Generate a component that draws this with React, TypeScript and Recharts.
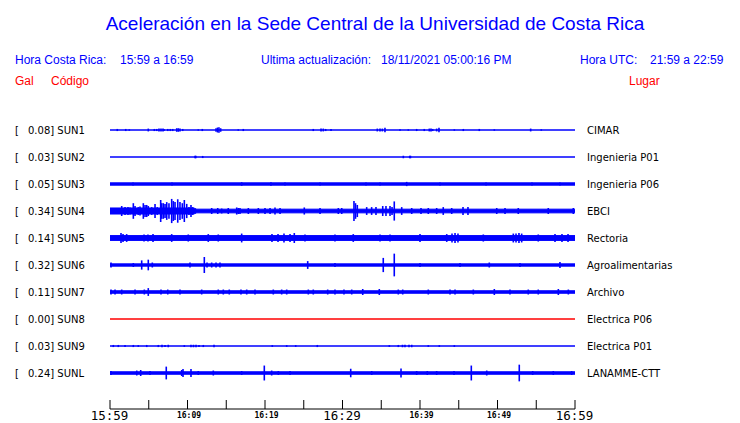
import React from "react";
import { Area, ComposedChart, ErrorBar, Scatter, XAxis, YAxis } from "recharts";

// acceleration traces, one minute = one x unit, from 15:59 (0) to 16:59 (60)
const stations = ["SUN1", "SUN2", "SUN3", "SUN4", "SUN5", "SUN6", "SUN7", "SUN8", "SUN9", "SUNL"];
const peakGal = [0.08, 0.03, 0.05, 0.34, 0.14, 0.32, 0.11, 0.0, 0.03, 0.24];
const places = [
  "CIMAR", "Ingenieria P01", "Ingenieria P06", "EBCI", "Rectoria",
  "Agroalimentarias", "Archivo", "Electrica P06", "Electrica P01", "LANAMME-CTT",
];

const timeTicks = [0, 5, 10, 15, 20, 25, 30, 35, 40, 45, 50, 55, 60];
const timeLabels = ["15:59", "", "16:09", "", "16:19", "", "16:29", "", "16:39", "", "16:49", "", "16:59"];
const bigLabels = ["15:59", "16:29", "16:59"];

// background noise half-width (gal) over time: [minute, gal]
const sun1Band = [[0, 0], [60, 0]];
const sun2Band = [[0, 0], [60, 0]];
const sun3Band = [[0, 0.033], [60, 0.033]];
const sun4Band = [[0, 0.085], [10.8, 0.085], [11.2, 0.052], [60, 0.052]];
const sun5Band = [[0, 0.068], [60, 0.068]];
const sun6Band = [[0, 0.032], [60, 0.032]];
const sun7Band = [[0, 0.035], [60, 0.035]];
const sun8Band = [[0, 0], [60, 0]];
const sun9Band = [[0, 0], [60, 0]];
const sunlBand = [[0, 0.035], [60, 0.035]];

// peaks above the noise: [minute, gal]
const sun1Events = [
  [0.94, 0.03], [2.03, 0.03], [2.49, 0.02], [4.94, 0.04], [5.72, 0.03], [6.03, 0.03], [6.32, 0.04],
  [6.58, 0.04], [6.84, 0.04], [6.97, 0.03], [7.45, 0.03], [7.78, 0.03], [8.09, 0.03], [8.61, 0.05],
  [8.81, 0.05], [9.03, 0.04], [9.38, 0.03], [11.39, 0.02], [11.91, 0.03], [13.68, 0.05], [13.87, 0.07],
  [14.06, 0.08], [14.28, 0.05], [16.55, 0.02], [17.2, 0.03], [26.23, 0.03], [27.23, 0.04], [27.52, 0.04],
  [27.83, 0.03], [28.52, 0.03], [34.49, 0.04], [34.84, 0.04], [35.14, 0.04], [35.48, 0.06], [37.42, 0.02],
  [38.49, 0.02], [39.57, 0.03], [40.55, 0.03], [41.2, 0.04], [41.42, 0.04], [41.64, 0.03], [42.15, 0.04],
  [42.45, 0.06], [44.43, 0.02], [45.59, 0.03], [47.65, 0.03], [49.59, 0.02], [54.28, 0.04], [55.65, 0.02],
];
const sun2Events = [[10.97, 0.035], [11.07, 0.035], [11.96, 0.03], [37.85, 0.035], [38.67, 0.035], [38.77, 0.035]];
const sun3Events = [
  [2.97, 0.045], [8.0, 0.045], [16.99, 0.05], [20.77, 0.05], [22.58, 0.045], [27.1, 0.045], [33.03, 0.045],
  [34.84, 0.045], [38.28, 0.06], [42.58, 0.045], [48.52, 0.045], [54.45, 0.045], [58.06, 0.045],
];
const sun4Events = [
  [0.26, 0.085], [0.77, 0.085], [1.51, 0.14], [1.94, 0.11], [2.32, 0.11], [2.58, 0.1], [3.01, 0.22],
  [3.23, 0.14], [3.65, 0.11], [3.87, 0.13], [4.3, 0.22], [4.52, 0.17], [4.74, 0.17], [4.94, 0.14],
  [5.38, 0.11], [5.81, 0.2], [6.1, 0.11], [6.54, 0.31], [6.67, 0.22], [6.88, 0.22], [7.1, 0.2],
  [7.32, 0.25], [7.61, 0.22], [7.96, 0.34], [8.17, 0.28], [8.39, 0.25], [8.74, 0.33], [9.03, 0.25],
  [9.33, 0.22], [9.59, 0.31], [9.9, 0.2], [10.19, 0.11], [10.45, 0.17], [10.67, 0.11],
  [13.12, 0.085], [13.9, 0.085], [14.41, 0.07], [15.26, 0.085], [16.35, 0.1], [16.55, 0.085], [16.77, 0.085],
  [17.85, 0.085], [19.14, 0.085], [20.0, 0.085], [20.65, 0.085], [21.29, 0.1], [21.94, 0.085], [25.07, 0.1],
  [27.1, 0.085], [29.46, 0.085], [29.9, 0.085], [31.48, 0.28], [31.68, 0.22], [31.91, 0.17], [33.12, 0.11],
  [33.76, 0.11], [34.32, 0.11], [35.19, 0.14], [35.61, 0.14], [36.13, 0.14], [36.39, 0.11], [36.68, 0.27],
  [37.64, 0.11], [38.93, 0.085], [40.13, 0.085], [41.07, 0.085], [42.15, 0.085], [43.0, 0.11], [44.09, 0.085],
  [45.55, 0.11], [46.19, 0.11], [49.9, 0.085], [50.97, 0.085], [52.68, 0.085], [56.55, 0.085], [59.78, 0.085],
];
const sun5Events = [
  [1.42, 0.14], [1.68, 0.11], [2.15, 0.11], [4.39, 0.1], [4.9, 0.1], [5.55, 0.11], [7.96, 0.11],
  [10.1, 0.1], [12.68, 0.11], [13.97, 0.1], [16.99, 0.125], [20.9, 0.11], [21.68, 0.11], [22.45, 0.125],
  [23.23, 0.11], [23.78, 0.14], [25.16, 0.1], [29.03, 0.1], [31.39, 0.11], [34.84, 0.1], [36.13, 0.1],
  [40.0, 0.11], [43.45, 0.11], [44.13, 0.13], [44.52, 0.14], [44.9, 0.125], [48.17, 0.1], [52.04, 0.125],
  [52.39, 0.13], [52.77, 0.14], [53.12, 0.125], [55.26, 0.1], [57.42, 0.11], [58.32, 0.11], [59.1, 0.11],
];
const sun6Events = [
  [0.13, 0.07], [3.01, 0.056], [4.09, 0.13], [4.94, 0.15], [5.46, 0.07], [10.32, 0.07], [12.17, 0.225],
  [12.52, 0.07], [13.12, 0.07], [13.68, 0.07], [14.19, 0.07], [25.51, 0.11], [29.03, 0.056], [35.26, 0.2],
  [36.68, 0.32], [40.0, 0.056], [45.16, 0.056], [48.94, 0.07], [52.9, 0.056], [58.06, 0.085],
];
const sun7Events = [
  [0.13, 0.07], [0.65, 0.07], [1.51, 0.07], [3.23, 0.07], [4.43, 0.07], [4.94, 0.11], [6.58, 0.07],
  [7.45, 0.07], [9.03, 0.07], [11.83, 0.07], [13.97, 0.07], [14.62, 0.07], [15.39, 0.07], [16.9, 0.07],
  [17.64, 0.07], [18.71, 0.07], [21.07, 0.07], [22.15, 0.07], [22.8, 0.07], [25.59, 0.07], [26.23, 0.07],
  [28.09, 0.07], [29.03, 0.07], [30.19, 0.07], [31.19, 0.07], [32.61, 0.085], [34.75, 0.085], [37.2, 0.07],
  [37.77, 0.07], [41.07, 0.07], [43.87, 0.07], [44.52, 0.07], [46.88, 0.07], [49.59, 0.085], [51.61, 0.07],
  [53.97, 0.07], [55.26, 0.07], [57.85, 0.085], [59.14, 0.07],
];
const sun8Events: number[][] = [];
const sun9Events = [
  [0.43, 0.03], [1.07, 0.03], [1.94, 0.03], [3.01, 0.03], [3.65, 0.025], [4.74, 0.03], [6.23, 0.03],
  [6.71, 0.035], [7.1, 0.03], [7.52, 0.035], [9.59, 0.025], [10.45, 0.035], [10.77, 0.035], [11.1, 0.035],
  [11.48, 0.03], [12.04, 0.03], [13.42, 0.035], [20.94, 0.025], [22.8, 0.025], [23.96, 0.025], [26.75, 0.03],
  [36.04, 0.025], [37.2, 0.03], [37.74, 0.035], [38.06, 0.035], [38.58, 0.035], [38.93, 0.035], [41.07, 0.025],
  [42.49, 0.025], [44.43, 0.025],
];
const sunlEvents = [
  [0.13, 0.056], [3.45, 0.07], [3.96, 0.085], [5.16, 0.056], [7.26, 0.18], [9.25, 0.085], [9.42, 0.11],
  [10.45, 0.11], [11.39, 0.056], [13.33, 0.07], [16.99, 0.056], [19.91, 0.21], [20.86, 0.07], [21.72, 0.056],
  [23.23, 0.056], [31.06, 0.12], [33.77, 0.056], [37.55, 0.125], [39.57, 0.056], [40.94, 0.056], [42.15, 0.056],
  [44.39, 0.056], [46.62, 0.21], [48.61, 0.07], [52.81, 0.235], [54.54, 0.056], [57.2, 0.056], [59.57, 0.056],
];

const bands = [sun1Band, sun2Band, sun3Band, sun4Band, sun5Band, sun6Band, sun7Band, sun8Band, sun9Band, sunlBand];
const events = [sun1Events, sun2Events, sun3Events, sun4Events, sun5Events, sun6Events, sun7Events, sun8Events, sun9Events, sunlEvents];

const ROW_GAP = 0.76; // gal between trace baselines
const rowValue = (i: number) => (stations.length - 1 - i) * ROW_GAP;
const rowTicks = stations.map((_, i) => rowValue(i));

const BLUE = "#0000ff";
const RED = "#ff0000";

const StationTick = (props: any) => {
  const { y, payload } = props;
  const i = rowTicks.indexOf(payload.value);
  if (i < 0) return null;
  return (
    <g fontFamily="DejaVu Sans" fontSize={10} fill="#000">
      <text x={15} y={y + 3.7}>[</text>
      <text x={28} y={y + 3.7}>{peakGal[i].toFixed(2)}] {stations[i]}</text>
      <text x={587} y={y + 3.7}>{places[i]}</text>
    </g>
  );
};

const TimeTick = (props: any) => {
  const { x, y, payload } = props;
  const label = timeLabels[timeTicks.indexOf(payload.value)];
  const big = bigLabels.includes(label);
  return (
    <g>
      <line x1={x} x2={x} y1={y - 9} y2={y} stroke="#000" />
      {label && (
        <text
          x={big ? x - 0.5 : x + 1.5}
          y={y + (big ? 10.5 : 9)}
          textAnchor="middle"
          fontFamily="DejaVu Sans Mono"
          fontWeight={big ? "normal" : "bold"}
          fontSize={big ? 12.5 : 8}
          fill="#000"
        >
          {label}
        </text>
      )}
    </g>
  );
};

const Header = () => (
  <svg width={740} height={100} style={{ position: "absolute", left: 0, top: 0 }} fontFamily="Liberation Sans, Arial, sans-serif">
    <text x={375} y={30} textAnchor="middle" fontSize={19} fill={BLUE}>
      Aceleración en la Sede Central de la Universidad de Costa Rica
    </text>
    <g fontSize={12} fill={BLUE}>
      <text x={15} y={64}>Hora Costa Rica:</text>
      <text x={120} y={64}>15:59 a 16:59</text>
      <text x={261} y={64}>Ultima actualización:</text>
      <text x={381} y={64}>18/11/2021 05:00:16 PM</text>
      <text x={580} y={64}>Hora UTC:</text>
      <text x={650} y={64}>21:59 a 22:59</text>
    </g>
    <g fontSize={12} fill={RED}>
      <text x={15} y={85}>Gal</text>
      <text x={51} y={85}>Código</text>
      <text x={629} y={85}>Lugar</text>
    </g>
  </svg>
);

const Empty = () => <g />;

export default function App() {
  return (
    <div style={{ position: "absolute", left: 0, top: 0, width: 740, height: 423, background: "#fff" }}>
      <Header />
      <div style={{ position: "absolute", left: 0, top: 0 }}>
        <ComposedChart width={740} height={423} margin={{ top: 103, right: 165, bottom: 0, left: 10 }}>
          <XAxis
            dataKey="t"
            type="number"
            domain={[0, 60]}
            ticks={timeTicks}
            interval={0}
            height={14}
            tickSize={0}
            tickMargin={0}
            tickLine={false}
            axisLine={{ stroke: "#000" }}
            tick={<TimeTick />}
            allowDataOverflow
          />
          <YAxis
            dataKey="y"
            type="number"
            domain={[-1.013, 7.6]}
            ticks={rowTicks}
            interval={0}
            width={100}
            axisLine={false}
            tickLine={false}
            tick={<StationTick />}
            allowDataOverflow
          />
          {stations.map((s, i) => (
            <Area
              key={s + "-band"}
              data={bands[i].map(([t, a]) => ({ t, r: [rowValue(i) - a, rowValue(i) + a] }))}
              dataKey="r"
              type="linear"
              stroke={peakGal[i] === 0 ? RED : BLUE}
              strokeWidth={1}
              fill={peakGal[i] === 0 ? RED : BLUE}
              fillOpacity={1}
              dot={false}
              activeDot={false}
              isAnimationActive={false}
            />
          ))}
          {stations.map((s, i) =>
            events[i].length ? (
              <Scatter
                key={s + "-peaks"}
                data={events[i].map(([t, a]) => ({ t, y: rowValue(i), e: a }))}
                dataKey="y"
                shape={<Empty />}
                isAnimationActive={false}
              >
                <ErrorBar dataKey="e" direction="y" width={0} stroke={BLUE} strokeWidth={1.6} isAnimationActive={false} />
              </Scatter>
            ) : null
          )}
        </ComposedChart>
      </div>
    </div>
  );
}
